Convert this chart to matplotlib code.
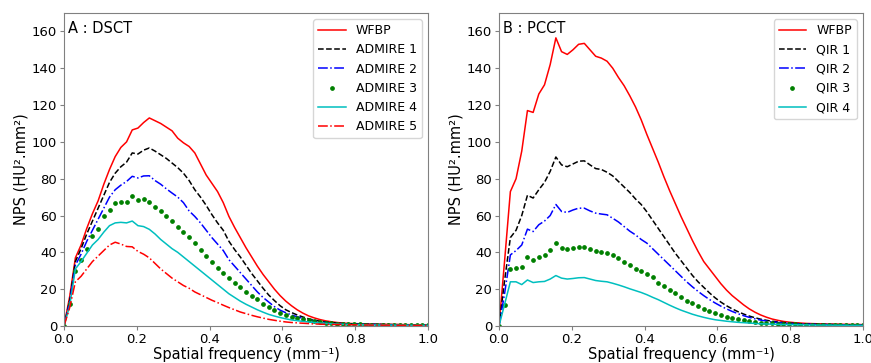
import numpy as np
import matplotlib
matplotlib.use("Agg")
import matplotlib.pyplot as plt
from matplotlib.ticker import FormatStrFormatter

# spatial frequency samples (step 1/64 mm^-1)
freq = np.arange(65) / 64.0

# panel A : DSCT
wfbp_a = [0, 16, 37, 44, 53, 61, 68, 77, 85, 92,
          97, 100, 106.5, 107.5, 110.5, 113, 111.5, 110, 108, 106,
          102, 99.5, 97.5, 94, 88, 82, 77.5, 73, 67, 59.5,
          53.5, 48, 42.5, 37.5, 32.5, 28, 24, 20, 16.5, 13.5,
          11, 8.8, 7, 5.5, 4.4, 3.5, 2.8, 2.3, 1.9, 1.6,
          1.4, 1.3, 1.2, 1.1, 1.05, 1.0, 0.95, 0.9, 0.85, 0.8,
          0.75, 0.7, 0.65, 0.6, 0.6]
admire1 = [0, 14, 35, 42, 50, 57, 64, 71, 78, 83,
           86.5, 89, 94, 93.4, 95.5, 96.7, 95, 93, 91, 88.5,
           86, 83, 79, 74, 70, 65.5, 60.5, 56, 52, 46,
           41.5, 37.5, 33, 28.5, 24.5, 20.5, 16.8, 13.8, 11, 8.8,
           7.3, 6, 4.9, 3.9, 3.2, 2.6, 2.2, 1.9, 1.6, 1.4,
           1.25, 1.15, 1.05, 1.0, 0.95, 0.9, 0.85, 0.8, 0.75, 0.7,
           0.65, 0.6, 0.55, 0.55, 0.5]
admire2 = [0, 13, 33, 39, 46, 52, 58, 64, 70, 74,
           76.5, 78.5, 81.3, 80.4, 81.5, 81.6, 79, 77, 74.5, 72.2,
           70, 67, 62.5, 59.5, 56, 52, 48, 44.5, 41, 36,
           32.5, 29, 25.5, 22, 18.5, 15.5, 13, 10.5, 8.6, 7.2,
           6, 5, 4.2, 3.4, 2.8, 2.3, 1.9, 1.6, 1.4, 1.2,
           1.1, 1.0, 0.95, 0.9, 0.85, 0.8, 0.75, 0.7, 0.65, 0.6,
           0.55, 0.5, 0.5, 0.45, 0.45]
admire3 = [0, 12, 30, 36, 42, 49, 52.6, 60, 63.1, 66.8,
           67.1, 67.1, 70.4, 68.2, 68.9, 67.6, 64.9, 62.5, 59.8, 57.1,
           54, 51.2, 48.6, 45, 41.4, 38.1, 35, 31.7, 29, 25.8,
           23.2, 21, 18.5, 16.3, 14.5, 11.8, 10.2, 8.7, 6.9, 6.0,
           4.7, 4.2, 3.6, 3.0, 2.5, 2.1, 1.8, 1.5, 1.3, 1.1,
           1.0, 0.9, 0.85, 0.8, 0.75, 0.7, 0.65, 0.6, 0.55, 0.5,
           0.5, 0.45, 0.45, 0.4, 0.4]
admire4 = [0, 11, 31, 35, 39.5, 44, 47, 51, 54.5, 56,
           56.3, 56, 57, 54.5, 54, 52.5, 50, 47, 44.5, 42,
           40, 37.5, 35, 32.5, 30, 27.5, 25, 22.5, 20, 17.5,
           15.5, 13.5, 11.8, 10.3, 8.8, 7.5, 6.3, 5.4, 4.6, 3.9,
           3.3, 2.9, 2.5, 2.2, 1.9, 1.6, 1.4, 1.2, 1.0, 0.9,
           0.8, 0.75, 0.7, 0.65, 0.6, 0.55, 0.5, 0.5, 0.45, 0.45,
           0.4, 0.4, 0.35, 0.35, 0.3]
admire5 = [0, 10, 24, 27, 31, 35, 38, 41, 44, 45.5,
           44.5, 43.2, 43, 40.5, 39, 37, 34, 31, 28.5, 26,
           24, 22, 20.5, 18.5, 17, 15.5, 14, 12.7, 11.3, 10,
           8.8, 7.6, 6.7, 5.8, 5, 4.3, 3.6, 3.1, 2.6, 2.2,
           1.9, 1.7, 1.5, 1.3, 1.15, 1.0, 0.9, 0.85, 0.8, 0.75,
           0.7, 0.65, 0.6, 0.55, 0.5, 0.5, 0.45, 0.45, 0.4, 0.4,
           0.35, 0.35, 0.3, 0.3, 0.3]

# panel B : PCCT
wfbp_b = [0, 36, 73, 80, 95, 117, 116, 126, 131, 142,
          156.5, 149, 147.5, 150, 153, 153.5, 150, 146.5, 145.5, 143.8,
          140, 135, 130.5, 125, 119, 112, 104, 96.5, 89, 81,
          73.5, 66.5, 59.5, 53, 46.5, 40.5, 35, 31, 27, 23,
          19.5, 16.5, 14, 11.5, 9.3, 7.5, 6, 4.8, 3.8, 3.1,
          2.5, 2.1, 1.8, 1.6, 1.4, 1.3, 1.2, 1.1, 1.05, 1.0,
          0.95, 0.9, 0.85, 0.8, 0.75]
qir1 = [0, 25, 48, 52, 60, 71, 69.5, 74, 78, 84,
        91.8, 87.5, 86.5, 88, 89.5, 89.7, 87.5, 85.5, 85, 83.5,
        81.5, 78.5, 75.5, 72.5, 69, 66, 62, 57.5, 53, 48.5,
        44, 39.5, 35.5, 31.5, 27.5, 24, 21, 18, 15.3, 13,
        11, 9.3, 7.8, 6.5, 5.4, 4.5, 3.7, 3.1, 2.6, 2.2,
        1.9, 1.6, 1.4, 1.25, 1.1, 1.0, 0.95, 0.9, 0.85, 0.8,
        0.75, 0.7, 0.65, 0.6, 0.6]
qir2 = [0, 18, 38.6, 41, 44, 52.6, 51.3, 55, 57, 60,
        66, 62.2, 61.7, 63, 64, 64, 62.5, 61.3, 60.8, 60.4,
        58.5, 56.5, 54, 51.5, 49.5, 47, 45, 42, 39, 36,
        33, 30, 27, 24, 21.3, 18.8, 16.5, 14.4, 12.5, 10.8,
        9.3, 7.9, 6.7, 5.6, 4.7, 3.9, 3.2, 2.7, 2.2, 1.9,
        1.6, 1.4, 1.2, 1.1, 1.0, 0.9, 0.85, 0.8, 0.75, 0.7,
        0.65, 0.6, 0.55, 0.5, 0.5]
qir3 = [0, 11.4, 30.8, 31.4, 32.3, 37.4, 35.9, 37.4, 38.5, 41.4,
        45, 42.1, 41.7, 42.1, 43, 42.8, 41.7, 41, 40.4, 39.9,
        38.6, 36.8, 35, 33.2, 30.8, 29.9, 28.3, 26.5, 23.6, 21.8,
        19.6, 17.8, 16, 13.6, 12.3, 11, 9.3, 8.2, 6.9, 6.0,
        5.1, 4.2, 3.8, 3.3, 2.7, 2.3, 1.9, 1.6, 1.4, 1.2,
        1.0, 0.9, 0.85, 0.8, 0.75, 0.7, 0.65, 0.6, 0.55, 0.5,
        0.5, 0.45, 0.45, 0.4, 0.4]
qir4 = [0, 12, 24, 24, 22.5, 25, 23.6, 24, 24.2, 25.5,
        27.4, 26, 25.5, 25.8, 26.2, 26.3, 25.5, 24.7, 24.3, 24,
        23.2, 22.3, 21.3, 20.2, 19.2, 18.2, 17, 15.6, 14.3, 12.8,
        11.3, 9.9, 8.6, 7.5, 6.4, 5.5, 4.7, 4.0, 3.4, 3.0,
        2.6, 2.3, 2.0, 1.8, 1.6, 1.4, 1.2, 1.1, 1.0, 0.9,
        0.8, 0.75, 0.7, 0.65, 0.6, 0.55, 0.5, 0.5, 0.45, 0.45,
        0.4, 0.4, 0.35, 0.35, 0.3]

styles = [dict(color="red", ls="-"),
          dict(color="black", ls="--"),
          dict(color="blue", ls="-."),
          dict(color="green", ls="none", marker="o", ms=2.4),
          dict(color="c", ls="-"),
          dict(color="red", ls="-.")]

panels = [
    ("A : DSCT", [wfbp_a, admire1, admire2, admire3, admire4, admire5],
     ["WFBP", "ADMIRE 1", "ADMIRE 2", "ADMIRE 3", "ADMIRE 4", "ADMIRE 5"]),
    ("B : PCCT", [wfbp_b, qir1, qir2, qir3, qir4],
     ["WFBP", "QIR 1", "QIR 2", "QIR 3", "QIR 4"]),
]

fig = plt.figure(figsize=(8.71, 3.63), dpi=100)
lefts = [64 / 871, 499 / 871]

for left, (title, series, names) in zip(lefts, panels):
    ax = fig.add_axes([left, 37 / 363, 364 / 871, 313 / 363])
    for ys, name, st in zip(series, names, styles):
        ax.plot(freq, ys, lw=1.1, label=name, **st)
    ax.set_xlim(0, 1.0)
    ax.set_ylim(0, 170)
    ax.set_xticks([0, 0.2, 0.4, 0.6, 0.8, 1.0])
    ax.xaxis.set_major_formatter(FormatStrFormatter("%.1f"))
    ax.set_yticks(range(0, 161, 20))
    ax.tick_params(labelsize=9.5, length=3, color="gray", pad=2)
    for sp in ax.spines.values():
        sp.set_color("gray")
    ax.set_xlabel("Spatial frequency (mm\u207b\u00b9)", fontsize=10.5, labelpad=1)
    ax.set_ylabel("NPS (HU\u00b2.mm\u00b2)", fontsize=10.5, labelpad=2)
    ax.text(0.012, 0.975, title, transform=ax.transAxes, fontsize=10.5,
            va="top", ha="left")
    ax.legend(loc="upper right", fontsize=9, numpoints=1, handlelength=2.2)

fig.savefig("out.png", dpi=100)
